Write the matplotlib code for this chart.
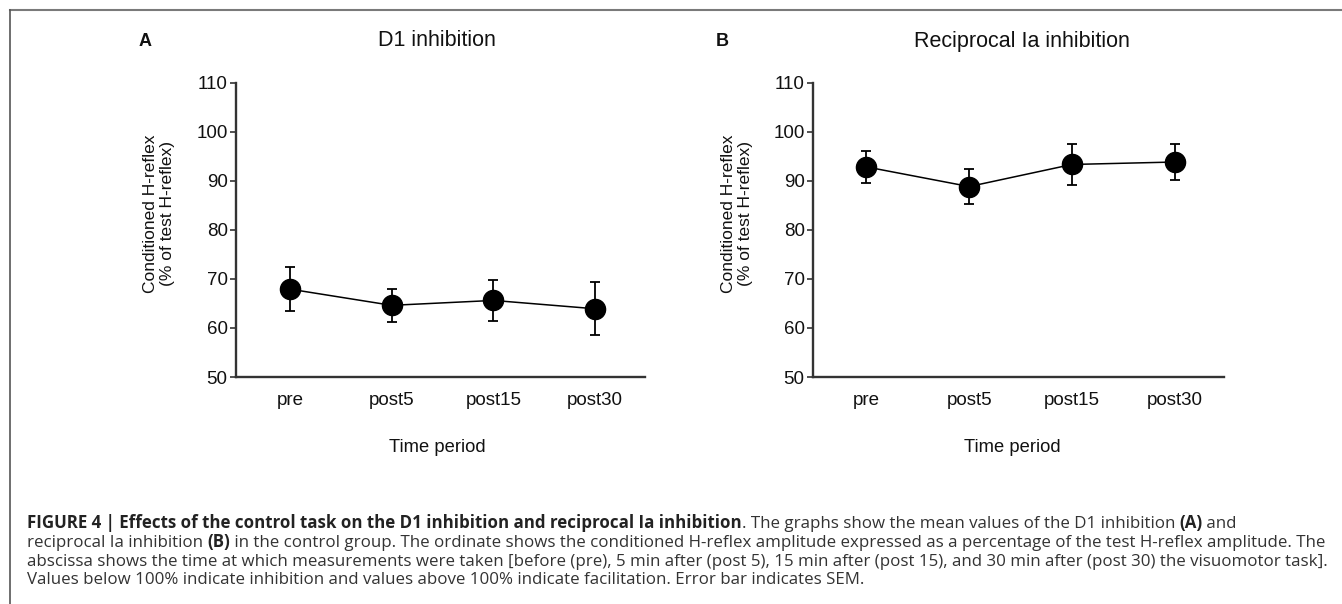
import matplotlib
matplotlib.use("Agg")
import matplotlib.pyplot as plt
from matplotlib.lines import Line2D
from matplotlib import font_manager
from matplotlib.font_manager import FontProperties
from matplotlib.textpath import TextPath

# ---------------- data ----------------
time_labels = ["pre", "post5", "post15", "post30"]
d1_mean = [67.9, 64.6, 65.6, 63.9]
d1_sem = [4.5, 3.3, 4.1, 5.4]
ia_mean = [92.8, 88.8, 93.3, 93.8]
ia_sem = [3.3, 3.6, 4.2, 3.6]
y_ticks = [50, 60, 70, 80, 90, 100, 110]
titles = ["D1 inhibition", "Reciprocal Ia inhibition"]
panel_letters = ["A", "B"]

W, H = 1342, 604
DPI = 100
fig = plt.figure(figsize=(W / DPI, H / DPI), dpi=DPI)
fig.patch.set_facecolor("white")
renderer = fig.canvas.get_renderer()

CHART_FONT = ["Liberation Sans", "DejaVu Sans"]

caption_lines = [
    [("FIGURE 4 | Effects of the control task on the D1 inhibition and reciprocal Ia inhibition", True),
     (". The graphs show the mean values of the D1 inhibition ", False), ("(A)", True), (" and", False)],
    [("reciprocal Ia inhibition ", False), ("(B)", True),
     (" in the control group. The ordinate shows the conditioned H-reflex amplitude expressed as a percentage of the test H-reflex amplitude. The", False)],
    [("abscissa shows the time at which measurements were taken [before (pre), 5 min after (post 5), 15 min after (post 15), and 30 min after (post 30) the visuomotor task].", False)],
    [("Values below 100% indicate inhibition and values above 100% indicate facilitation. Error bar indicates SEM.", False)],
]


def line_width(segs, size, fam):
    total = 0
    for txt, bold in segs:
        t = fig.text(0, 0, txt, fontsize=size, family=fam,
                     fontweight="bold" if bold else "normal")
        total += t.get_window_extent(renderer).width
        t.remove()
    return total


# choose a sans for the caption whose width at the reference cap height fits best
entries = font_manager.fontManager.ttflist
TARGET_W = 1320 - 27
TARGET_CAP = 11.0  # px
best = None
for cand in ["Liberation Sans", "Archivo Narrow", "Encode Sans Semi Condensed", "Encode Sans Condensed",
             "Barlow Semi Condensed", "Fira Sans Condensed", "Roboto Condensed", "PT Sans Narrow",
             "IBM Plex Sans Condensed", "Asap Condensed", "Sofia Sans Semi Condensed",
             "Saira Semi Condensed", "Source Sans 3", "Source Sans Pro", "Open Sans", "Roboto",
             "Archivo", "Cabin Condensed", "Ubuntu Condensed", "Pragati Narrow", "Roboto Flex"]:
    ws = [f.weight for f in entries if f.name == cand and f.style == "normal"]
    ws = [int(w) if str(w).isdigit() else (700 if str(w) == "bold" else 400) for w in ws]
    if not (any(w == 400 for w in ws) and any(w >= 600 for w in ws)):
        continue
    fam = [cand, "DejaVu Sans"]
    cap = TextPath((0, 0), "H", size=100, prop=FontProperties(family=fam)).get_extents().height
    # size in pt whose cap height in px equals TARGET_CAP (px = pt * DPI/72)
    s = TARGET_CAP / (cap / 100.0) * 72.0 / DPI
    w = line_width(caption_lines[1], s, fam)
    score = abs(w - TARGET_W)
    if best is None or score < best[0]:
        best = (score, fam, s, w)

CAP_FONT = best[1]
cap_size = best[2] * TARGET_W / best[3]


def px_axes(left, top, right, bottom):
    return fig.add_axes([left / W, (H - bottom) / H, (right - left) / W, (bottom - top) / H])


def fx(x):
    return x / W


def fy(y):
    return (H - y) / H


# frame lines
fig.add_artist(Line2D([fx(9.5), fx(1342)], [fy(9.5), fy(9.5)], color="#7a7a7a", lw=1.5))
fig.add_artist(Line2D([fx(9.5), fx(9.5)], [fy(9.5), fy(604)], color="#555555", lw=1.2))

panels = [
    dict(box=(236, 82.5, 645, 377), xlim=(-0.53, 3.49), mean=d1_mean, sem=d1_sem,
         letter_x=145, title_x=437, ylab_x=159, xlab_x=437),
    dict(box=(813, 82.5, 1224, 377), xlim=(-0.52, 3.48), mean=ia_mean, sem=ia_sem,
         letter_x=722, title_x=1022, ylab_x=737, xlab_x=1012),
]

for i, p in enumerate(panels):
    ax = px_axes(*p["box"])
    x = list(range(len(time_labels)))
    ax.errorbar(x, p["mean"], yerr=p["sem"], fmt="o-", color="black", ms=14.5,
                lw=1.1, elinewidth=1.3, capsize=3.3, capthick=1.3, ecolor="black",
                clip_on=False, zorder=3)
    ax.set_xlim(*p["xlim"])
    ax.set_ylim(50, 110)
    ax.set_yticks(y_ticks)
    ax.set_xticks(x)
    ax.set_xticklabels(time_labels)
    for s in ["top", "right"]:
        ax.spines[s].set_visible(False)
    for s in ["left", "bottom"]:
        ax.spines[s].set_color("#333333")
        ax.spines[s].set_linewidth(1.7)
    ax.tick_params(axis="y", length=4, width=1.2, color="#333333", pad=2,
                   labelsize=13.5, labelcolor="#111111")
    ax.tick_params(axis="x", length=0, pad=11, labelsize=13.5, labelcolor="#111111")
    for lab in ax.get_xticklabels() + ax.get_yticklabels():
        lab.set_family(CHART_FONT)
    ax.patch.set_alpha(0)

    fig.text(fx(p["letter_x"]), fy(42), panel_letters[i], fontsize=13, fontweight="bold",
             family=CHART_FONT, ha="center", va="center", color="#111111")
    fig.text(fx(p["title_x"]), fy(41), titles[i], fontsize=15.5, family=CHART_FONT,
             ha="center", va="center", color="#111111")
    fig.text(fx(p["ylab_x"]), fy(214), "Conditioned H-reflex\n(% of test H-reflex)",
             fontsize=12.5, family=CHART_FONT, rotation=90, ha="center", va="center",
             linespacing=1.15, color="#111111")
    fig.text(fx(p["xlab_x"]), fy(448), "Time period", fontsize=13.2, family=CHART_FONT,
             ha="center", va="center", color="#111111")

# ---------------- caption ----------------
baselines = [528, 547, 566, 584]
for segs, yb in zip(caption_lines, baselines):
    xcur = 27.0
    for txt, bold in segs:
        t = fig.text(fx(xcur), fy(yb), txt, fontsize=cap_size, family=CAP_FONT,
                     fontweight="bold" if bold else "normal", ha="left", va="baseline",
                     color="#222222" if bold else "#333333")
        xcur += t.get_window_extent(renderer).width

fig.savefig("out.png", dpi=DPI, facecolor="white")
